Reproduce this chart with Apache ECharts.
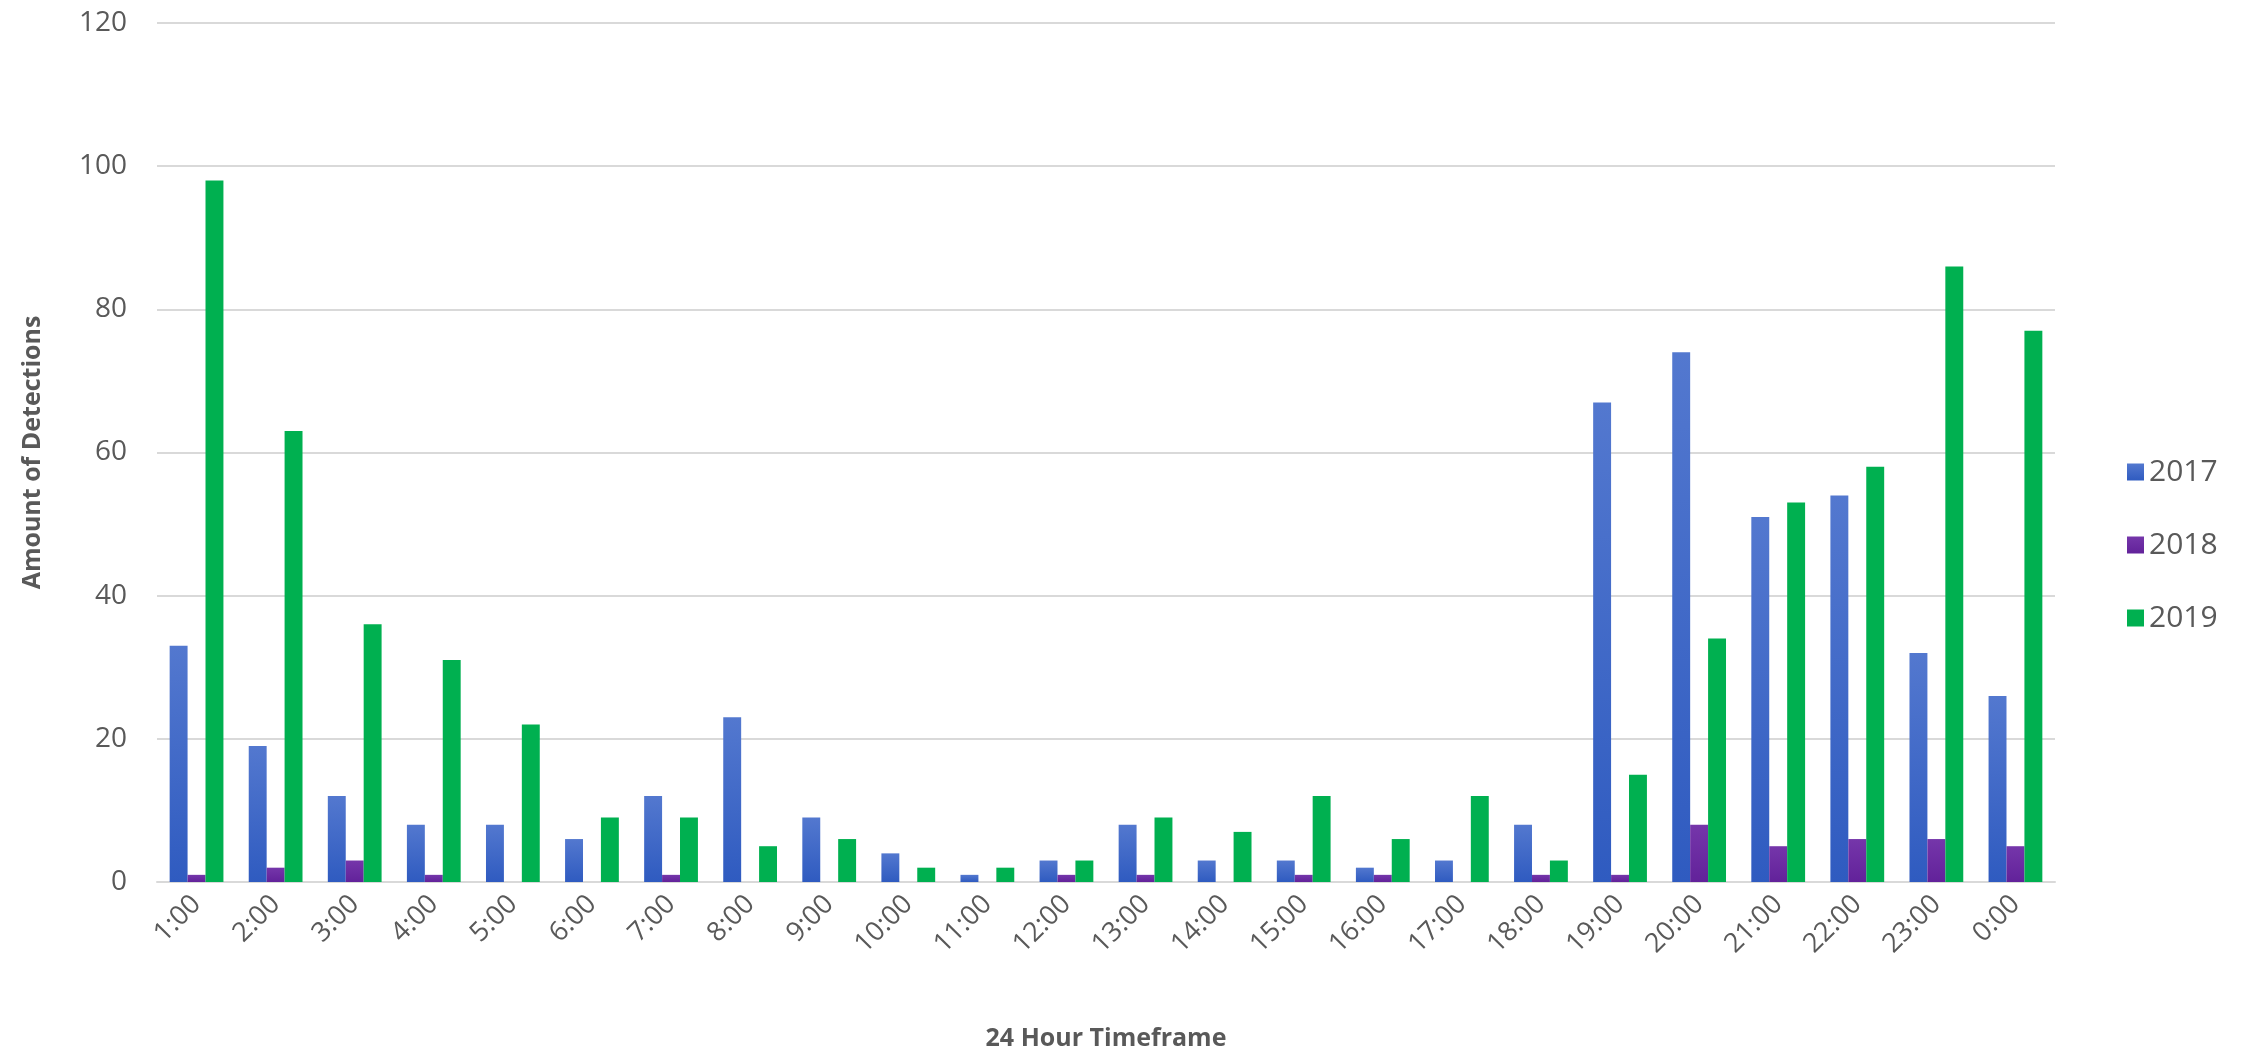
<!DOCTYPE html>
<html lang="en">
<head>
    <meta charset="UTF-8">
    <title>Detections by hour</title>
    <script src="https://cdn.jsdelivr.net/npm/echarts@6/dist/echarts.min.js"></script>
    <style>
        html, body { margin: 0; padding: 0; background: #ffffff; }
        #chart { width: 2254px; height: 1056px; }
    </style>
</head>
<body>
<div id="chart"></div>
<script>
    // hours shown along the x axis
    var hours = ['1:00', '2:00', '3:00', '4:00', '5:00', '6:00', '7:00', '8:00', '9:00', '10:00', '11:00', '12:00',
        '13:00', '14:00', '15:00', '16:00', '17:00', '18:00', '19:00', '20:00', '21:00', '22:00', '23:00', '0:00'];
    var years = ['2017', '2018', '2019'];
    var d2017 = [33, 19, 12, 8, 8, 6, 12, 23, 9, 4, 1, 3, 8, 3, 3, 2, 3, 8, 67, 74, 51, 54, 32, 26];
    var d2018 = [1, 2, 3, 1, 0, 0, 1, 0, 0, 0, 0, 1, 1, 0, 1, 1, 0, 1, 1, 8, 5, 6, 6, 5];
    var d2019 = [98, 63, 36, 31, 22, 9, 9, 5, 6, 2, 2, 3, 9, 7, 12, 6, 12, 3, 15, 34, 53, 58, 86, 77];

    var txt = '#595959';
    var font = 'Open Sans';

    function grad(top, bottom) {
        return new echarts.graphic.LinearGradient(0, 0, 0, 1, [
            {offset: 0, color: top}, {offset: 1, color: bottom}
        ]);
    }

    var chart = echarts.init(document.getElementById('chart'));
    chart.setOption({
        animation: false,
        backgroundColor: '#ffffff',
        textStyle: {fontFamily: font},
        grid: {left: 157, right: 199, top: 23, bottom: 173},
        legend: {
            orient: 'vertical',
            left: 2122,
            top: 452,
            itemWidth: 17,
            itemHeight: 17,
            itemGap: 43,
            icon: 'rect',
            data: years,
            textStyle: {color: txt, fontSize: 30, fontFamily: font}
        },
        xAxis: {
            type: 'category',
            data: hours,
            name: '24 Hour Timeframe',
            nameLocation: 'middle',
            nameGap: 144,
            nameTextStyle: {color: txt, fontSize: 25, fontWeight: 'bold', fontFamily: font},
            axisLine: {lineStyle: {color: '#d9d9d9', width: 2}},
            axisTick: {show: false},
            axisLabel: {rotate: 45, color: txt, fontSize: 27, margin: 18, interval: 0}
        },
        yAxis: {
            type: 'value',
            min: 0,
            max: 120,
            interval: 20,
            name: 'Amount of Detections',
            nameLocation: 'middle',
            nameGap: 112,
            nameTextStyle: {color: txt, fontSize: 25, fontWeight: 'bold', fontFamily: font},
            axisLine: {show: false},
            axisTick: {show: false},
            axisLabel: {color: txt, fontSize: 28, margin: 30},
            splitLine: {lineStyle: {color: '#d9d9d9', width: 2}}
        },
        series: [
            {
                name: '2017', type: 'bar', data: d2017,
                barGap: '0%', barCategoryGap: '32%',
                itemStyle: {color: grad('#5378cf', '#2f5bc0')}
            },
            {
                name: '2018', type: 'bar', data: d2018,
                barGap: '0%', barCategoryGap: '32%',
                itemStyle: {color: grad('#7536aa', '#62229a')}
            },
            {
                name: '2019', type: 'bar', data: d2019,
                barGap: '0%', barCategoryGap: '32%',
                itemStyle: {color: '#00b050'}
            }
        ]
    });
</script>
</body>
</html>
